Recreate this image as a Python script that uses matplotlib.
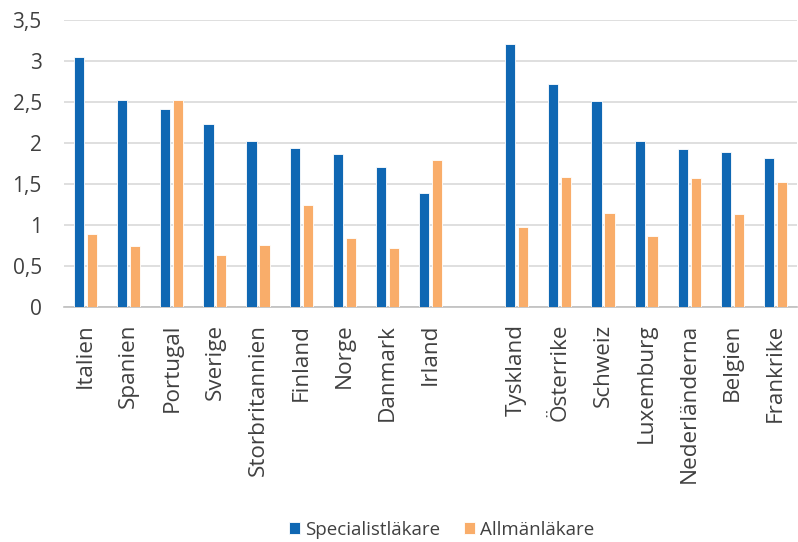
import matplotlib
matplotlib.use("Agg")
import matplotlib.pyplot as plt
import numpy as np

plt.rcParams['font.family'] = ['Open Sans', 'DejaVu Sans']

countries = ["Italien", "Spanien", "Portugal", "Sverige", "Storbritannien",
             "Finland", "Norge", "Danmark", "Irland", "",
             "Tyskland", "Österrike", "Schweiz", "Luxemburg", "Nederländerna",
             "Belgien", "Frankrike"]
specialist = [3.05, 2.52, 2.41, 2.23, 2.02, 1.94, 1.86, 1.71, 1.39, np.nan,
              3.21, 2.72, 2.51, 2.02, 1.93, 1.89, 1.82]
allman = [0.89, 0.75, 2.53, 0.64, 0.76, 1.25, 0.84, 0.72, 1.79, np.nan,
          0.98, 1.59, 1.15, 0.87, 1.57, 1.14, 1.53]
series_names = ["Specialistläkare", "Allmänläkare"]
yticks = [0, 0.5, 1, 1.5, 2, 2.5, 3, 3.5]
ytick_labels = ["0", "0,5", "1", "1,5", "2", "2,5", "3", "3,5"]

blue = "#0f67b3"
orange = "#f9ad6a"
text_col = "#404040"

fig = plt.figure(figsize=(7.98, 5.42), dpi=100)
ax = fig.add_axes([64 / 798, 1 - 307 / 542, (797 - 64) / 798, (307 - 20) / 542])

x = np.arange(len(countries))
w = 0.235
off = 0.15
ax.bar(x - off, specialist, width=w, color=blue, edgecolor="white",
       linewidth=0.6, label=series_names[0], zorder=3)
ax.bar(x + off, allman, width=w, color=orange, edgecolor="white",
       linewidth=0.6, label=series_names[1], zorder=3)

ax.set_xlim(-0.5, len(countries) - 0.5)
ax.set_ylim(0, 3.5)
ax.set_yticks(yticks)
ax.set_yticklabels(ytick_labels, fontsize=15, color=text_col)
ax.set_xticks(x)
ax.set_xticklabels(countries, rotation=90, fontsize=16.2, color=text_col)
ax.tick_params(axis="both", length=0)
ax.tick_params(axis="y", pad=16)
ax.tick_params(axis="x", pad=12)

ax.grid(axis="y", color="#d9d9d9", linewidth=1.2, zorder=0)
for s in ["top", "right", "left"]:
    ax.spines[s].set_visible(False)
ax.spines["bottom"].set_color("#bfbfbf")
ax.spines["bottom"].set_linewidth(1.2)

fig.legend(loc="center", bbox_to_anchor=(0.553, 1 - 530 / 542), ncol=2,
           frameon=False, fontsize=13.5, handlelength=0.6, handleheight=0.6,
           handletextpad=0.25, columnspacing=1.27, labelcolor=text_col)

fig.savefig("out.png", dpi=100)
